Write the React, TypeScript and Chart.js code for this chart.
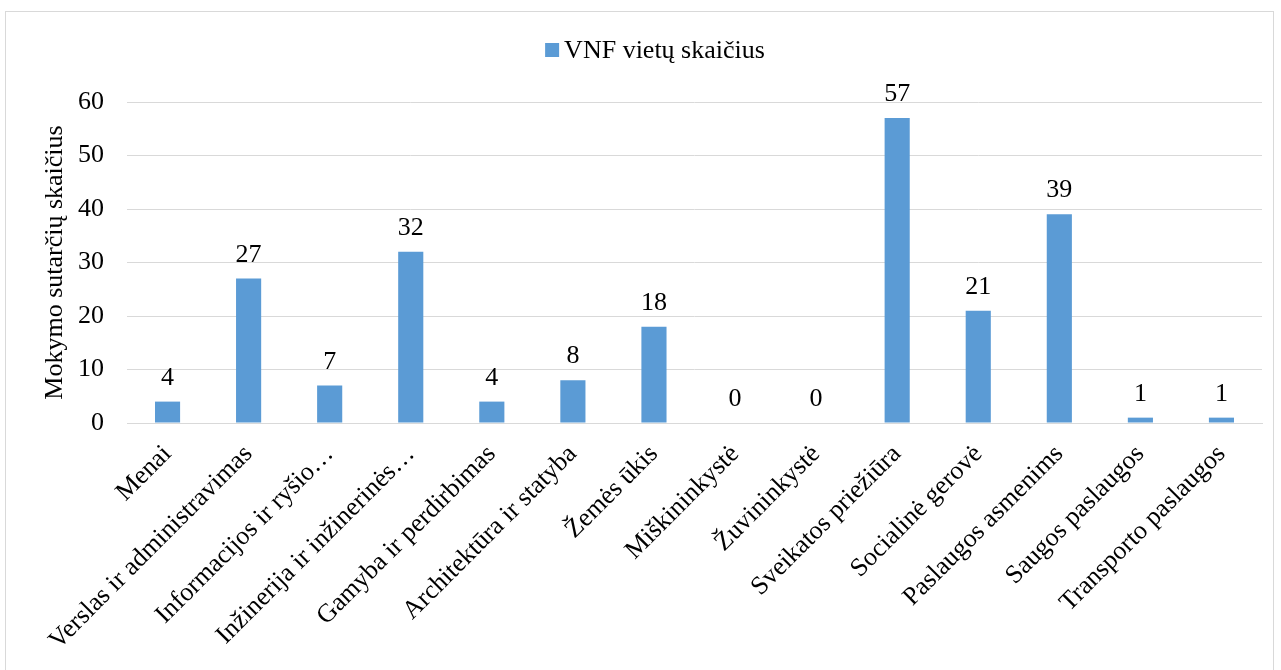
import React, { useEffect, useRef } from "react";
import { Chart, registerables } from "chart.js";

Chart.register(...registerables);

const categories = [
  "Menai",
  "Verslas ir administravimas",
  "Informacijos ir ryšio…",
  "Inžinerija ir inžinerinės…",
  "Gamyba ir perdirbimas",
  "Architektūra ir statyba",
  "Žemės ūkis",
  "Miškininkystė",
  "Žuvininkystė",
  "Sveikatos priežiūra",
  "Socialinė gerovė",
  "Paslaugos asmenims",
  "Saugos paslaugos",
  "Transporto paslaugos",
];
const seriesLabel = "VNF vietų skaičius";
const values = [4, 27, 7, 32, 4, 8, 18, 0, 0, 57, 21, 39, 1, 1];
const yTitle = "Mokymo sutarčių skaičius";

const FONT = "'Liberation Serif', 'Times New Roman', serif";
const BAR_COLOR = "#5b9bd5";

export default function App() {
  const ref = useRef<HTMLCanvasElement | null>(null);
  useEffect(() => {
    const canvas = ref.current!;
    const dataLabels = {
      id: "dataLabels",
      afterDatasetsDraw(chart: any) {
        const ctx = chart.ctx;
        const meta = chart.getDatasetMeta(0);
        ctx.save();
        ctx.font = `26px ${FONT}`;
        ctx.fillStyle = "#000";
        ctx.textAlign = "center";
        ctx.textBaseline = "alphabetic";
        meta.data.forEach((bar: any, i: number) => {
          ctx.fillText(String(values[i]), bar.x, bar.y - 17);
        });
        ctx.restore();
      },
    };
    const topLegend = {
      id: "topLegend",
      afterDraw(chart: any) {
        const ctx = chart.ctx;
        const label = chart.data.datasets[0].label as string;
        ctx.save();
        ctx.font = `26px ${FONT}`;
        const w = ctx.measureText(label).width;
        const box = 14;
        const gap = 5;
        const total = box + gap + w;
        const cx = (chart.scales.y.left + chart.chartArea.right) / 2;
        const x0 = cx - total / 2;
        const cy = 50;
        ctx.fillStyle = chart.data.datasets[0].backgroundColor;
        ctx.fillRect(x0, cy - box / 2, box, box);
        ctx.fillStyle = "#000";
        ctx.textAlign = "left";
        ctx.textBaseline = "middle";
        ctx.fillText(label, x0 + box + gap, cy + 1);
        ctx.restore();
      },
    };
    const chart = new Chart(canvas, {
      type: "bar",
      data: {
        labels: categories,
        datasets: [
          {
            label: seriesLabel,
            data: values,
            backgroundColor: BAR_COLOR,
            borderWidth: 0,
            barPercentage: 0.31,
            categoryPercentage: 1,
          },
        ],
      },
      options: {
        responsive: false,
        animation: false,
        layout: { padding: { top: 102, left: 48, right: 19, bottom: 0 } },
        plugins: {
          legend: { display: false },
          tooltip: { enabled: false },
        },
        scales: {
          x: {
            grid: { display: false },
            border: { display: true, color: "#d9d9d9", width: 1 },
            ticks: {
              autoSkip: false,
              maxRotation: 45,
              minRotation: 45,
              color: "#000",
              font: { family: FONT, size: 26 },
              padding: 8,
            },
            afterFit(scale: any) {
              scale.height = 300;
            },
          },
          y: {
            min: 0,
            max: 60,
            ticks: {
              stepSize: 10,
              color: "#000",
              font: { family: FONT, size: 26 },
              padding: 23,
            },
            grid: { color: "#d9d9d9", lineWidth: 1, drawTicks: false },
            border: { display: false },
            title: {
              display: true,
              text: yTitle,
              color: "#000",
              font: { family: FONT, size: 26 },
              padding: { top: -8, bottom: 0 },
            },
            afterFit(scale: any) {
              scale.width = 79;
            },
          },
        },
      },
      plugins: [dataLabels, topLegend],
    });
    return () => chart.destroy();
  }, []);
  return (
    <div
      style={{
        position: "fixed",
        left: 0,
        top: 0,
        width: 1281,
        height: 670,
        overflow: "hidden",
        background: "#fff",
      }}
    >
      <div
        style={{
          position: "absolute",
          left: 5,
          top: 11,
          width: 1269,
          height: 720,
          border: "1px solid #d9d9d9",
          boxSizing: "border-box",
        }}
      />
      <canvas
        ref={ref}
        width={1281}
        height={723}
        style={{ position: "absolute", left: 0, top: 0, width: 1281, height: 723 }}
      />
    </div>
  );
}
